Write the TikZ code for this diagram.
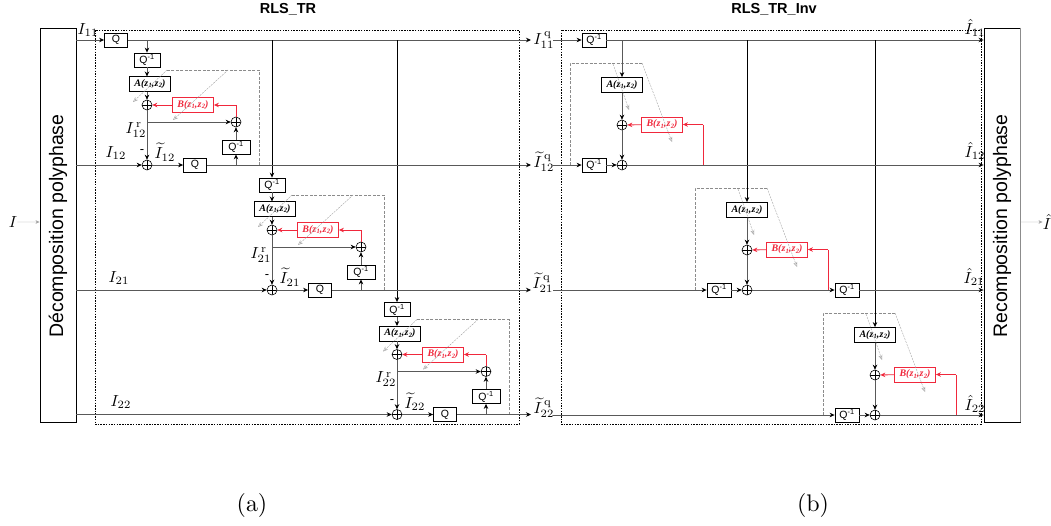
\documentclass[tikz,border=0pt]{standalone}
\usepackage[no-math]{fontspec}
\setmainfont{Liberation Sans}
\newfontfamily\serifb{Liberation Serif}
\usetikzlibrary{arrows.meta,calc}
\definecolor{ln}{gray}{0.35}
\definecolor{dsh}{gray}{0.55}
\definecolor{rd}{RGB}{240,40,60}
\tikzset{
  x=1pt,y=-1pt,
  arr/.style={draw=ln,line width=.7pt,-{Stealth[length=5pt,width=4.5pt,color=black]}},
  plain/.style={draw=ln,line width=.7pt},
  thickv/.style={draw=black,line width=.9pt},
  redarr/.style={draw=rd,line width=.8pt,-{Stealth[length=5pt,width=4.5pt]}},
  redline/.style={draw=rd,line width=.9pt},
  dashbox/.style={draw=dsh,line width=.7pt,dashed,dash pattern=on 3pt off 1.5pt},
  thinarr/.style={draw=dsh!80,line width=.4pt,dash pattern=on 2pt off 1pt,-{Stealth[open,length=5pt,width=4pt]}},
  big/.style={draw=black,line width=.9pt,minimum width=36pt,minimum height=394pt,inner sep=0pt},
  bigtxt/.style={rotate=90,font=\fontsize{19.5}{22}\selectfont,inner sep=0pt},
  qbox/.style={draw=black,line width=.8pt,fill=white,minimum width=23pt,minimum height=14pt,inner sep=0pt,font=\fontsize{10.5}{12}\selectfont},
  qibox/.style={qbox,minimum width=26pt},
  abox/.style={draw=black,line width=.8pt,fill=white,minimum width=41pt,minimum height=15pt,inner sep=0pt,font=\serifb\fontsize{10}{11}\selectfont\bfseries\itshape},
  bbox/.style={abox,draw=rd,text=rd},
  sumn/.style={circle,draw=black,line width=.6pt,minimum size=10pt,inner sep=0pt,
    path picture={\draw[line width=.6pt] (path picture bounding box.north)--(path picture bounding box.south)
      (path picture bounding box.west)--(path picture bounding box.east);}},
  mlabel/.style={scale=1.6,inner sep=0pt},
  frame/.style={draw=black,line width=.8pt,dash pattern=on 1.5pt off 1.2pt},
  title/.style={font=\fontsize{14.5}{16}\selectfont\bfseries,inner sep=0pt},
  caption/.style={scale=2.4,inner sep=0pt},
}
\newcommand{\ABlabel}[1]{#1(\textit{z}\kern.3pt\raisebox{-1.5pt}{\fontsize{6.5}{7}\selectfont 1},\kern.3pt\textit{z}\kern.3pt\raisebox{-1.5pt}{\fontsize{6.5}{7}\selectfont 2})}
\newcommand{\leftblock}[4]{%
  \begin{scope}[shift={(#2,#3)}]
    \node[qibox] (Qa#1) at (147,60) {Q\textsuperscript{-1}};
    \node[abox] (A#1) at (150,84) {\ABlabel{A}};
    \node[sumn] (Sa#1) at (147,105) {};
    \node[bbox] (B#1) at (193,105) {\ABlabel{B}};
    \node[sumn] (Sr#1) at (236,122) {};
    \node[qibox,minimum width=28pt] (Qb#1) at (236,147) {Q\textsuperscript{-1}};
    \node[sumn] (Sb#1) at (147,165) {};
    \node[qbox] (Q#1) at (195,165) {Q};
    \coordinate (jr#1) at (147,122);
    \coordinate (jq#1) at (236,165);
    \coordinate (rc#1) at (236,105);
    \coordinate (d1#1) at (259,165);
    \coordinate (d2#1) at (259,70);
    \coordinate (d3#1) at (167,70);
    \coordinate (d4#1) at (133,102);
    \coordinate (t1#1) at (228,70);
    \coordinate (t2#1) at (173,120);
    \coordinate (ax#1) at (147,76.5);
    \draw[dashbox] (d1#1) -- (d2#1) -- (d3#1);
    \draw[thinarr] (d3#1) -- (d4#1);
    \draw[thinarr] (t1#1) -- (t2#1);
    \draw[arr] (Qa#1) -- (ax#1);
    \draw[arr] (ax#1 |- A#1.south) -- (Sa#1);
    \draw[arr] (Sa#1) -- (Sb#1);
    \draw[arr] (jr#1) -- (Sr#1);
    \draw[arr] (Qb#1) -- (Sr#1);
    \draw[arr] (jq#1) -- (Qb#1);
    \draw[redline] (Sr#1) -- (rc#1);
    \draw[redarr] (rc#1) -- (B#1);
    \draw[redarr] (B#1) -- (Sa#1);
    \draw[arr] (Sb#1) -- (Q#1);
    \node[mlabel] (Lr#1) at (136,130) {$I_{#4}^{\,\mathrm{r}}$};
    \node[mlabel] (Lt#1) at (165,152) {$\widetilde{I}_{#4}$};
    \node[inner sep=0pt,font=\fontsize{13}{14}\selectfont] (Lm#1) at (142,152) {-};
  \end{scope}}
\newcommand{\rightblock}[3]{%
  \begin{scope}[shift={(#2,#3)}]
    \node[abox] (RA#1) at (622,85) {\ABlabel{A}};
    \node[sumn] (RSa#1) at (622,125) {};
    \node[bbox] (RB#1) at (662,124.5) {\ABlabel{B}};
    \node[sumn] (RSb#1) at (622,165) {};
    \node[qbox,minimum width=24pt] (RQ#1) at (594,165) {Q\textsuperscript{-1}};
    \coordinate (rc1#1) at (703,124.5);
    \coordinate (rc2#1) at (703,165);
    \coordinate (rd1#1) at (570,165);
    \coordinate (rd2#1) at (570,63);
    \coordinate (rd3#1) at (642,63);
    \coordinate (rt3#1) at (613,64);
    \coordinate (rt4#1) at (629,110);
    \coordinate (rd4#1) at (672,142);
    \draw[dashbox] (rd1#1) -- (rd2#1) -- (rd3#1);
    \draw[thinarr] (rd3#1) -- (rd4#1);
    \draw[thinarr] (rt3#1) -- (rt4#1);
    \draw[arr] (RA#1) -- (RSa#1);
    \draw[arr] (RSa#1) -- (RSb#1);
    \draw[arr] (RQ#1) -- (RSb#1);
    \draw[redline] (rc2#1) -- (rc1#1);
    \draw[redarr] (rc1#1) -- (RB#1);
    \draw[redarr] (RB#1) -- (RSa#1);
  \end{scope}}
\begin{document}
\begin{tikzpicture}
\useasboundingbox (0,0) rectangle (1051,525);
% frames
\node[inner sep=0pt,minimum width=424pt,minimum height=394pt,frame,draw] (F1) at (307,227) {};
\node[inner sep=0pt,minimum width=420pt,minimum height=394pt,frame,draw] (F2) at (771,227) {};
\node[title] (T1) at (288,9) {RLS\_TR};
\node[title] (T2) at (774,9) {RLS\_TR\_Inv};
% big boxes
\node[big] (dec) at (58,225) {};
\node[bigtxt] (dect) at (58,226) {Décomposition polyphase};
\node[big] (rec) at (1002,225) {};
\node[bigtxt] (rect) at (1002,226) {Recomposition polyphase};
\draw[draw=dsh,line width=1.5pt] (rec.north east) -- (rec.south east);
\node[mlabel] (Iin) at (13,222) {$I$};
\node[mlabel] (Iout) at (1047,222) {$\hat I$};
\draw[draw=dsh!80,line width=.4pt,-{Stealth[length=4pt,width=3.5pt]}] (Iin) -- (dec.west |- Iin);
\draw[draw=dsh!80,line width=.4pt,-{Stealth[length=4pt,width=3.5pt]}] (rec.east |- Iout) -- (Iout);
% left part
\leftblock{a}{0}{0}{12}
\leftblock{b}{125}{125}{21}
\leftblock{c}{250}{249.5}{22}
\node[qbox] (Q0) at (116,40) {Q};
\coordinate (e0) at (531,40);
\coordinate (fa) at (147,40);
\coordinate (fb) at (272,40);
\coordinate (fc) at (397,40);
\draw[arr] (dec.east |- Q0) -- (Q0);
\draw[plain,line width=.9pt,-{Stealth[length=5pt,width=4.5pt,color=black]}] (Q0) -- (e0);
\draw[arr] (fa) -- (Qaa);
\draw[arr,thickv] (fb) -- (Qab);
\draw[arr,thickv] (fc) -- (Qac);
\foreach \s in {a,b,c}{
  \draw[arr] (dec.east |- Sb\s) -- (Sb\s);
  \draw[arr] (Q\s) -- (e0 |- Q\s);
}
\node[mlabel] (I11) at (88,30) {$I_{11}$};
\node[mlabel] (I12) at (116,153) {$I_{12}$};
\node[mlabel] (I21) at (119,278) {$I_{21}$};
\node[mlabel] (I22) at (121,402) {$I_{22}$};
% outputs of the left part
\node[mlabel] (q11) at (544,40) {$I_{11}^{\,\mathrm{q}}$};
\node[mlabel] (q12) at (544,162) {$\widetilde{I}_{12}^{\,\mathrm{q}}$};
\node[mlabel] (q21) at (543,283) {$\widetilde{I}_{21}^{\,\mathrm{q}}$};
\node[mlabel] (q22) at (544,408) {$\widetilde{I}_{22}^{\,\mathrm{q}}$};
% right part
\rightblock{a}{0}{0}
\rightblock{b}{125}{125}
\rightblock{c}{253}{250}
\node[qbox,minimum width=24pt] (RQ0) at (594,40) {Q\textsuperscript{-1}};
\node[qbox,minimum width=24pt] (RQx) at (847,290) {Q\textsuperscript{-1}};
\coordinate (ra) at (622,40);
\coordinate (rb) at (747,40);
\coordinate (rcc) at (875,40);
\coordinate (s0) at (553,40);
\coordinate (s1) at (553,165);
\coordinate (s2) at (553,290);
\coordinate (s3) at (553,415);
\draw[arr] (s0) -- (RQ0);
\draw[arr] (s1) -- (RQa);
\draw[arr] (s2) -- (RQb);
\draw[arr] (s3) -- (RQc);
\draw[plain,line width=.9pt,-{Stealth[length=5pt,width=4.5pt,color=black]}] (RQ0) -- (rec.west |- RQ0);
\draw[arr] (ra) -- (RAa);
\draw[arr,thickv] (rb) -- (RAb);
\draw[arr,thickv] (rcc) -- (RAc);
\draw[arr] (RSba) -- (rec.west |- RSba);
\draw[arr] (RSbb) -- (RQx);
\draw[arr] (RQx) -- (rec.west |- RQx);
\draw[arr] (RSbc) -- (rec.west |- RSbc);
\node[mlabel] (h11) at (975,28) {$\hat I_{11}$};
\node[mlabel] (h12) at (975,151) {$\hat I_{12}$};
\node[mlabel] (h21) at (974,277) {$\hat I_{21}$};
\node[mlabel] (h22) at (975,404) {$\hat I_{22}$};
% captions
\node[caption] (ca) at (252,505) {$(\mathrm{a})$};
\node[caption] (cb) at (813,505) {$(\mathrm{b})$};
\end{tikzpicture}
\end{document}
